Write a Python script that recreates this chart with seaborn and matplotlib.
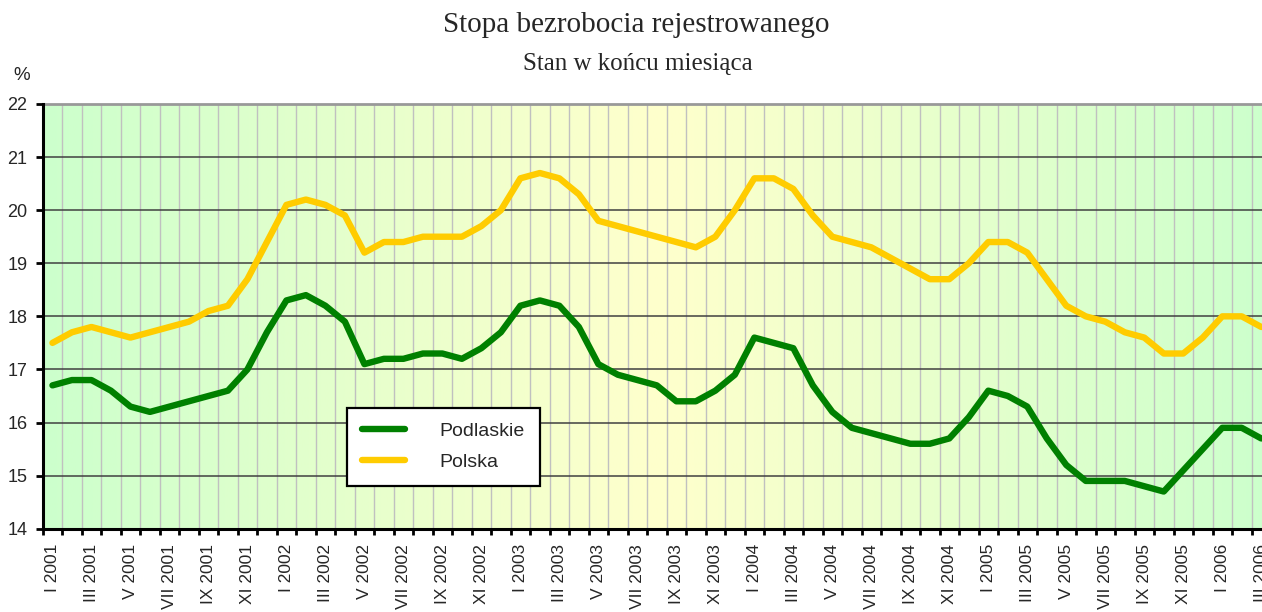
import numpy as np
import pandas as pd
import matplotlib
matplotlib.use("Agg")
import matplotlib.pyplot as plt
import seaborn as sns
from matplotlib.ticker import FixedLocator

roman = ["I", "II", "III", "IV", "V", "VI", "VII", "VIII", "IX", "X", "XI", "XII"]
months = [f"{roman[m]} {y}" for y in range(2001, 2007) for m in range(12)][:63]

podlaskie = [16.7, 16.8, 16.8, 16.6, 16.3, 16.2, 16.3, 16.4, 16.5, 16.6, 17.0, 17.7,
             18.3, 18.4, 18.2, 17.9, 17.1, 17.2, 17.2, 17.3, 17.3, 17.2, 17.4, 17.7,
             18.2, 18.3, 18.2, 17.8, 17.1, 16.9, 16.8, 16.7, 16.4, 16.4, 16.6, 16.9,
             17.6, 17.5, 17.4, 16.7, 16.2, 15.9, 15.8, 15.7, 15.6, 15.6, 15.7, 16.1,
             16.6, 16.5, 16.3, 15.7, 15.2, 14.9, 14.9, 14.9, 14.8, 14.7, 15.1, 15.5,
             15.9, 15.9, 15.7]
polska = [17.5, 17.7, 17.8, 17.7, 17.6, 17.7, 17.8, 17.9, 18.1, 18.2, 18.7, 19.4,
          20.1, 20.2, 20.1, 19.9, 19.2, 19.4, 19.4, 19.5, 19.5, 19.5, 19.7, 20.0,
          20.6, 20.7, 20.6, 20.3, 19.8, 19.7, 19.6, 19.5, 19.4, 19.3, 19.5, 20.0,
          20.6, 20.6, 20.4, 19.9, 19.5, 19.4, 19.3, 19.1, 18.9, 18.7, 18.7, 19.0,
          19.4, 19.4, 19.2, 18.7, 18.2, 18.0, 17.9, 17.7, 17.6, 17.3, 17.3, 17.6,
          18.0, 18.0, 17.8]
series_names = ["Podlaskie", "Polska"]
y_ticks = [14, 15, 16, 17, 18, 19, 20, 21, 22]

title = "Stopa bezrobocia rejestrowanego"
subtitle = "Stan w końcu miesiąca"

n = len(months)
df = pd.DataFrame({
    "idx": list(range(n)) * 2,
    "value": podlaskie + polska,
    "series": [series_names[0]] * n + [series_names[1]] * n,
})

sns.set_style("white")
plt.rcParams["font.family"] = ["Liberation Sans", "DejaVu Sans"]

W, H = 1262, 612
fig = plt.figure(figsize=(W / 100, H / 100), dpi=100)
left_px, right_px, top_px, bot_px = 42.7, 1271.0, 104.0, 528.7
ax = fig.add_axes([left_px / W, (H - bot_px) / H, (right_px - left_px) / W, (bot_px - top_px) / H])

# background gradient green -> yellow -> green
xs = np.linspace(0, 1, 400)
t = np.abs(xs - 0.5) / 0.5
green = np.array([204, 255, 204]) / 255
yellow = np.array([255, 255, 204]) / 255
grad = (yellow[None, :] * (1 - t[:, None]) + green[None, :] * t[:, None])[None, :, :]
ax.imshow(grad, extent=(-0.5, n - 0.5, 14, 22), aspect="auto", zorder=0, interpolation="bilinear")

sns.lineplot(data=df, x="idx", y="value", hue="series",
             palette={"Podlaskie": "#008000", "Polska": "#FFCC00"},
             linewidth=4.6, ax=ax, zorder=3, legend=True)

ax.set_xlim(-0.5, n - 0.5)
ax.set_ylim(14, 22)
ax.set_xlabel("")
ax.set_ylabel("")

# x ticks: labels at every other category centre, tick marks at boundaries
ax.xaxis.set_major_locator(FixedLocator(list(range(0, n, 2))))
ax.set_xticklabels(months[::2], rotation=90, fontsize=12.5)
ax.xaxis.set_minor_locator(FixedLocator([i - 0.5 for i in range(n + 1)]))
ax.tick_params(axis="x", which="major", length=0, pad=11)
ax.tick_params(axis="x", which="minor", length=4.5, width=2, color="black", direction="out", bottom=True)

ax.set_yticks(y_ticks)
ax.set_yticklabels([str(v) for v in y_ticks], fontsize=13)
ax.tick_params(axis="y", which="major", length=5, width=2, color="black", direction="out", left=True, pad=6)

ax.set_axisbelow(True)
ax.grid(False)
ax.yaxis.grid(True, color="#404040", linewidth=1.1, zorder=1)
ax.xaxis.grid(True, which="minor", color="#C0C0C0", linewidth=1.0, zorder=1)

for s in ["left", "bottom"]:
    ax.spines[s].set_color("black")
    ax.spines[s].set_linewidth(2.2)
    ax.spines[s].set_zorder(5)
ax.spines["top"].set_color("#999999")
ax.spines["top"].set_linewidth(2)
ax.spines["right"].set_visible(False)

handles, labels = ax.get_legend_handles_labels()
leg = ax.legend(handles, labels, loc="lower left",
                bbox_to_anchor=((347 - left_px) / (right_px - left_px), (bot_px - 486) / (bot_px - top_px)),
                borderaxespad=0, fontsize=14, frameon=True, fancybox=False,
                handlelength=2.2, handletextpad=1.8, labelspacing=0.7,
                borderpad=0.76, framealpha=1)
leg.get_frame().set_edgecolor("black")
leg.get_frame().set_linewidth(1.6)
leg.set_zorder(6)
for line in leg.get_lines():
    line.set_linewidth(4.6)

fig.text(636 / W, 1 - 25 / H, title, ha="center", va="center", fontsize=21,
         family=["Liberation Serif", "DejaVu Serif"])
fig.text(638 / W, 1 - 64 / H, subtitle, ha="center", va="center", fontsize=18,
         family=["Liberation Serif", "DejaVu Serif"])
fig.text(22 / W, 1 - 75 / H, "%", ha="center", va="center", fontsize=13.5)

fig.savefig("out.png", dpi=100)
